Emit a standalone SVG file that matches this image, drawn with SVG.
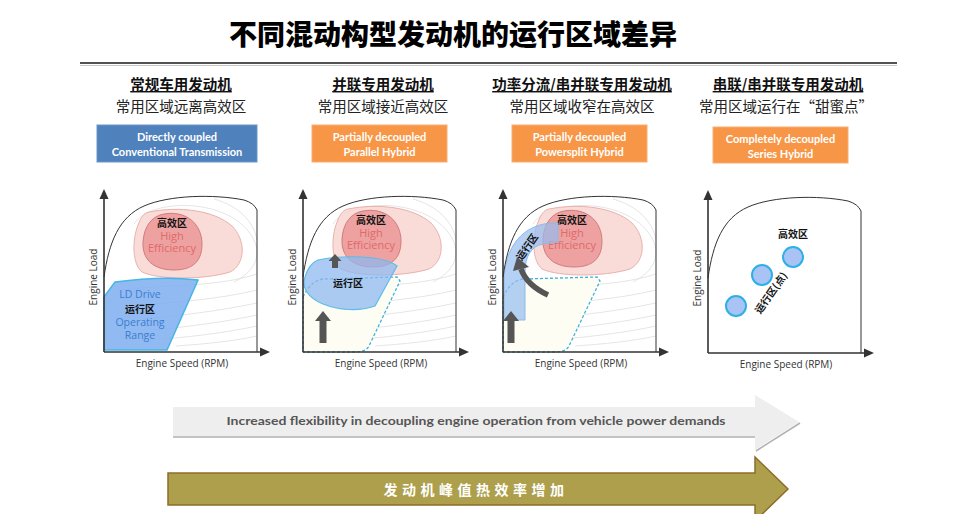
<svg xmlns="http://www.w3.org/2000/svg" xmlns:xlink="http://www.w3.org/1999/xlink" width="975" height="514" viewBox="0 0 975 514">
<style>
.cjk{font-family:"Noto Sans CJK SC","Noto Sans",sans-serif}
.ttl{font-size:14.5px;font-weight:bold;fill:#111;text-anchor:middle;text-decoration:underline}
.sub{font-size:14.5px;fill:#222;text-anchor:middle}
.box{font-family:Lato,"Open Sans",sans-serif;font-size:11px;font-weight:bold;fill:#fff;text-anchor:middle}
.ax{stroke:#333;stroke-width:1.6;fill:none}
.axh{fill:#333}
.env{stroke:#333;stroke-width:1;fill:none}
.ctr{stroke:#dadada;stroke-width:0.7;fill:none}
.pink{fill:#f8d5d0;fill-opacity:0.85;stroke:#e3a39e;stroke-width:0.8}
.red{fill:#eb9696;fill-opacity:0.85;stroke:#c86c6c;stroke-width:0.8}
.he{font-family:"Open Sans",sans-serif;font-size:11px;fill:#e06a6a;text-anchor:middle}
.lbl{font-family:"Noto Sans CJK SC",sans-serif;font-size:10px;font-weight:bold;fill:#111;text-anchor:middle}
.axl{font-family:"Open Sans",sans-serif;font-size:10px;fill:#333;text-anchor:middle}
.dash{fill:#fefdf4;stroke:#3db2d8;stroke-width:1.3;stroke-dasharray:3 2}
.gar{fill:#555}
.blu{font-family:"Open Sans",sans-serif;font-size:10.5px;fill:#3b7dd0;text-anchor:middle}
</style>
<defs>
<g id="axes">
<path class="ax" d="M0 0 L0 -154 M0 0 L157 0"/>
<polygon class="axh" points="-4.5,-153 4.5,-153 0,-163"/>
<polygon class="axh" points="156,-4.5 156,4.5 166,0"/>
<text class="axl" x="78" y="15">Engine Speed (RPM)</text>
<text class="axl" transform="translate(-7,-75) rotate(-90)">Engine Load</text>
</g>
<path id="env" class="env" d="M0 -75 C5 -110,15 -135,40 -146 C65 -157,110 -158,140 -152 Q150 -149 153 -142 L153 0"/>
<g id="ctrs">
<path class="ctr" d="M18 -62 C60 -68,110 -64,153 -78"/>
<path class="ctr" d="M28 -46 C70 -50,112 -52,153 -62"/>
<path class="ctr" d="M40 -33 C80 -37,115 -41,153 -49"/>
<path class="ctr" d="M50 -22 C90 -26,120 -30,153 -37"/>
<path class="ctr" d="M60 -13 C95 -16,125 -20,153 -26"/>
<path class="ctr" d="M72 -6 C102 -8,130 -11,153 -16"/>
<path class="ctr" d="M30 -128 C45 -154,128 -156,150 -112 C158 -96,150 -80,130 -70"/>
<path class="ctr" d="M110 -153 C135 -146,150 -130,153 -112"/>
</g>
<path id="pinkp" class="pink" d="M45 -140 C75 -146,110 -142,128 -126 C142 -112,142 -88,126 -80 C100 -72,55 -72,38 -80 C28 -88,28 -112,34 -127 C37 -135,40 -139,45 -140 Z"/>
<path id="redp" class="red" d="M60 -138 C82 -142,98 -128,98 -108 C98 -90,88 -82,70 -82 C50 -82,38 -92,39 -110 C40 -126,48 -136,60 -138 Z"/>
<g id="helbl">
<text class="lbl" x="68" y="-125">高效区</text>
<text class="he" x="68" y="-112">High</text>
<text class="he" x="68" y="-100">Efficiency</text>
</g>
<path id="dashp" class="dash" d="M0 -55 C5 -65,10 -71,20 -73 L94 -75 L97 -71 L66 -6 C64 -2,60 0,50 0 L0 0 Z"/>
</defs>

<rect width="975" height="514" fill="#ffffff"/>

<g id="title">
<text class="cjk" x="453" y="45" font-size="28" font-weight="900" fill="#000" text-anchor="middle">不同混动构型发动机的运行区域差异</text>
<line x1="80" y1="63" x2="897" y2="63" stroke="#1a1a1a" stroke-width="1.5"/>
<line x1="80" y1="65.5" x2="897" y2="65.5" stroke="#c8c8c8" stroke-width="1"/>
</g>

<g id="panel1">
<text class="cjk ttl" x="181" y="90">常规车用发动机</text>
<text class="cjk sub" x="181" y="112">常用区域远离高效区</text>
<rect x="97" y="125" width="160" height="37" fill="#4f81bd" stroke="#6d95c8" stroke-width="1"/>
<text class="box" x="177" y="141">Directly coupled</text>
<text class="box" x="177" y="156">Conventional Transmission</text>
<g transform="translate(104,352)">
<use xlink:href="#ctrs"/>
<use xlink:href="#pinkp"/>
<use xlink:href="#redp"/>
<use xlink:href="#helbl"/>
<path d="M0 -55 L11 -70 C40 -74,70 -75,94 -72 L63 -2 L0 -2 Z" fill="#7eaef0" fill-opacity="0.85" stroke="#45b6e6" stroke-width="1.5"/>
<text class="blu" x="36" y="-54">LD Drive</text>
<text class="lbl" x="36" y="-39">运行区</text>
<text class="blu" x="36" y="-26">Operating</text>
<text class="blu" x="36" y="-13">Range</text>
<use xlink:href="#env"/>
<use xlink:href="#axes"/>
</g>
</g>

<g id="panel2">
<text class="cjk ttl" x="383" y="90">并联专用发动机</text>
<text class="cjk sub" x="383" y="112">常用区域接近高效区</text>
<rect x="312" y="125" width="135" height="37" fill="#f79646" stroke="#f9ad72" stroke-width="1"/>
<text class="box" x="379.5" y="141">Partially decoupled</text>
<text class="box" x="379.5" y="156">Parallel Hybrid</text>
<g transform="translate(303,352)">
<use xlink:href="#ctrs"/>
<use xlink:href="#dashp"/>
<g transform="translate(0,-3)">
<use xlink:href="#pinkp"/>
<use xlink:href="#redp"/>
<use xlink:href="#helbl"/>
</g>
<path d="M15 -92 C40 -97,80 -97,94 -86 L72 -46 C55 -40,35 -42,20 -48 C5 -54,-2 -65,2 -75 C5 -85,10 -90,15 -92 Z" fill="#8fb8f0" fill-opacity="0.75" stroke="#5bbde8" stroke-width="1.2"/>
<text class="lbl" x="45" y="-65" font-size="11">运行区</text>
<polygon class="gar" points="29,-84 35,-84 35,-91 38.5,-91 32,-98 25.5,-91 29,-91"/>
<polygon class="gar" points="16.5,-9 23.5,-9 23.5,-31 28,-31 20,-41 12,-31 16.5,-31"/>
<use xlink:href="#env"/>
<use xlink:href="#axes"/>
</g>
</g>

<g id="panel3">
<text class="cjk ttl" x="582" y="90">功率分流/串并联专用发动机</text>
<text class="cjk sub" x="582" y="112">常用区域收窄在高效区</text>
<rect x="512" y="125" width="135" height="37" fill="#f79646" stroke="#f9ad72" stroke-width="1"/>
<text class="box" x="579.5" y="141">Partially decoupled</text>
<text class="box" x="579.5" y="156">Powersplit Hybrid</text>
<g transform="translate(503,352)">
<use xlink:href="#ctrs"/>
<use xlink:href="#dashp"/>
<g transform="translate(1,-3)">
<use xlink:href="#pinkp"/>
<use xlink:href="#redp"/>
<use xlink:href="#helbl"/>
</g>
<path d="M1 -32 L1 -70 C1 -105,20 -128,50 -129 L55 -129 L55 -110 L40 -108 C28 -106,22 -95,22 -80 L22 -32 Z" fill="#94bcf0" fill-opacity="0.7" stroke="#8cbbe8" stroke-width="1"/>
<text class="lbl" transform="translate(27,-103) rotate(-55)" font-size="11">运行区</text>
<path d="M45 -57 C32 -63,22 -72,18 -83" fill="none" stroke="#555" stroke-width="5.5"/>
<polygon class="gar" points="10,-81 26,-85 14,-95"/>
<polygon class="gar" points="4.5,-9 11.5,-9 11.5,-31 16,-31 8,-41 0,-31 4.5,-31"/>
<use xlink:href="#env"/>
<use xlink:href="#axes"/>
</g>
</g>

<g id="panel4">
<text class="cjk ttl" x="788" y="90">串联/串并联专用发动机</text>
<text class="cjk sub" x="786" y="112">常用区域运行在“甜蜜点”</text>
<rect x="713" y="127" width="135" height="36" fill="#f79646" stroke="#f9ad72" stroke-width="1"/>
<text class="box" x="780.5" y="143">Completely decoupled</text>
<text class="box" x="780.5" y="158">Series Hybrid</text>
<g transform="translate(708,353)">
<circle cx="28" cy="-47" r="10" fill="#a9c4f4" stroke="#2db0e6" stroke-width="2"/>
<circle cx="54" cy="-78" r="10" fill="#a9c4f4" stroke="#2db0e6" stroke-width="2"/>
<circle cx="85" cy="-96" r="10" fill="#a9c4f4" stroke="#2db0e6" stroke-width="2"/>
<text class="lbl" x="85" y="-115">高效区</text>
<text class="lbl" transform="translate(66,-58) rotate(-55)">运行区(点)</text>
<use xlink:href="#env"/>
<use xlink:href="#axes"/>
</g>
</g>

<g id="flex-arrow">
<polygon points="173,407 755,407 755,395 799,422 755,450 755,436 173,436" fill="#eeeeee"/>
<path d="M173 437 L755 437 M756 451 L800 423" stroke="#b0b0b0" stroke-width="1.5" fill="none"/>
<text x="476" y="425" font-family="Lato,'Open Sans',sans-serif" font-size="12" font-weight="bold" fill="#555" text-anchor="middle" textLength="499" lengthAdjust="spacingAndGlyphs">Increased flexibility in decoupling engine operation from vehicle power demands</text>
</g>

<g id="efficiency-arrow">
<polygon points="168,473 755,473 755,457 788,489 755,521 755,505 168,505" fill="#ad9f4c" stroke="#8d6e28" stroke-width="1.5"/>
<text class="cjk" x="476" y="495" font-size="14" font-weight="bold" fill="#ffffff" text-anchor="middle" letter-spacing="4.5">发动机峰值热效率增加</text>
</g>
</svg>
